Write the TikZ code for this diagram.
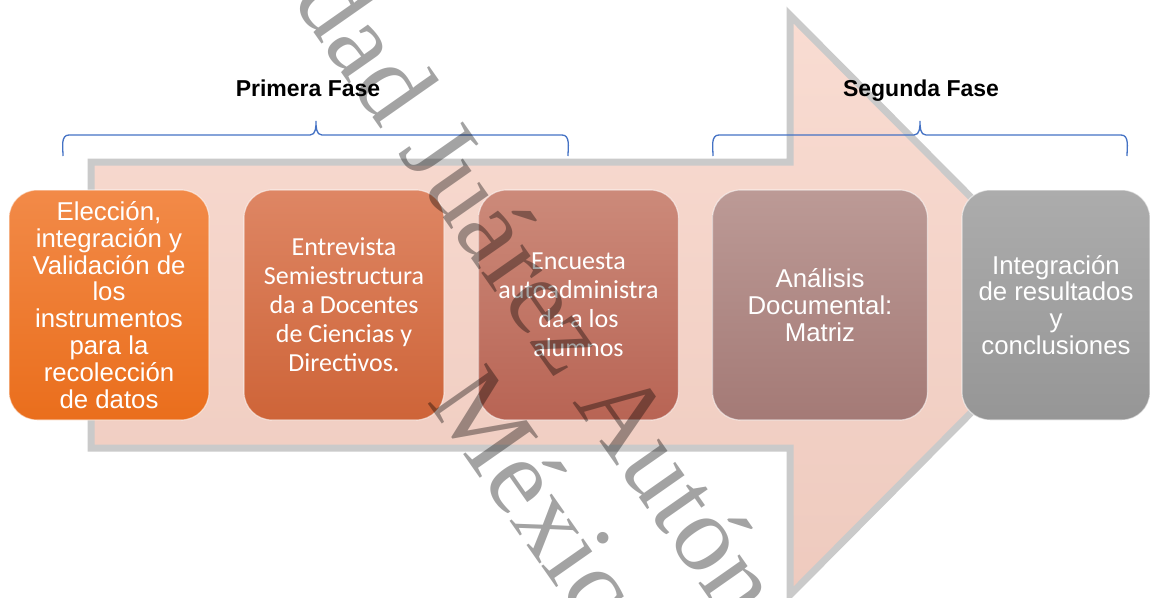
\documentclass[tikz,border=0pt]{standalone}
\usepackage{fontspec}
\setmainfont{Liberation Sans}
\newfontfamily\calfont{Carlito}
\newfontfamily\wmfont{Liberation Serif}
\definecolor{arrowgray}{RGB}{202,202,202}
\definecolor{pinktop}{RGB}{249,220,210}
\definecolor{pinkbot}{RGB}{238,202,190}
\definecolor{bracecol}{RGB}{68,114,196}
\definecolor{oA}{RGB}{242,138,72}\definecolor{oB}{RGB}{234,110,28}
\definecolor{rA}{RGB}{222,134,100}\definecolor{rB}{RGB}{206,100,56}
\definecolor{bA}{RGB}{204,138,122}\definecolor{bB}{RGB}{184,100,84}
\definecolor{mA}{RGB}{188,154,150}\definecolor{mB}{RGB}{164,122,118}
\definecolor{gA}{RGB}{172,172,172}\definecolor{gB}{RGB}{150,150,150}
\tikzset{
  stagebox/.style={rounded corners=28pt, minimum height=230pt, inner sep=4pt,
    draw=white, draw opacity=0.55, line width=1.2pt, text=white, align=center},
  armfont/.style={font=\fontsize{25.8}{26.8}\selectfont},
  calfontsty/.style={font=\calfont\fontsize{26}{29}\selectfont},
  phasetitle/.style={font=\bfseries\fontsize{23}{26}\selectfont, text=black, anchor=base},
  bracket/.style={draw=bracecol, line width=1.3pt},
  watermark/.style={font=\wmfont\fontsize{109}{115}\selectfont, text=black,
    text opacity=0.36, rotate=-55, inner sep=0pt}
}
\begin{document}
\begin{tikzpicture}[x=1pt,y=-1pt]
\useasboundingbox (0,0) rectangle (1150,597);

% large background arrow
\draw[draw=arrowgray, line width=7pt, top color=pinktop, bottom color=pinkbot]
  (91,162) -- (790,162) -- (790,15) -- (1078,305) -- (790,595) -- (790,448) -- (91,448) -- cycle;

% phase brackets
\draw[bracket] (63,156) to[out=90,in=180] (69,135) -- (310,135)
  to[out=0,in=-90] (316,121) to[out=-90,in=180] (322,135) -- (562,135)
  to[out=0,in=90] (568,156);
\draw[bracket] (713,156) to[out=90,in=180] (719,135) -- (914,135)
  to[out=0,in=-90] (920,121) to[out=-90,in=180] (926,135) -- (1121,135)
  to[out=0,in=90] (1127,156);

\node[phasetitle] (t1) at (308,96) {Primera Fase};
\node[phasetitle] (t2) at (921,96) {Segunda Fase};

% stage boxes
\node[stagebox, armfont, minimum width=200pt, top color=oA, bottom color=oB] (s1) at (109,305)
  {Elección,\\integración y\\Validación de\\los\\instrumentos\\para la\\recolección\\de datos};
\node[stagebox, calfontsty, minimum width=200pt, top color=rA, bottom color=rB] (s2) at (344,305)
  {Entrevista\\Semiestructura\\da a Docentes\\de Ciencias y\\Directivos.};
\node[stagebox, calfontsty, minimum width=200pt, top color=bA, bottom color=bB] (s3) at (578.5,305)
  {Encuesta\\autoadministra\\da a los\\alumnos};
\node[stagebox, armfont, minimum width=215pt, top color=mA, bottom color=mB] (s4) at (820,305)
  {Análisis\\Documental:\\Matriz};
\node[stagebox, armfont, minimum width=188pt, top color=gA, bottom color=gB] (s5) at (1056,305)
  {Integración\\de resultados\\y\\conclusiones};

% diagonal watermark
\begin{scope}
\clip (0,0) rectangle (1150,597);
\node[watermark, anchor=base west] (w1) at (397,152) {\llap{idad }Juárez Autónoma};
\node[watermark, anchor=base west] (w2) at (426,401) {México};
\end{scope}
\end{tikzpicture}
\end{document}
